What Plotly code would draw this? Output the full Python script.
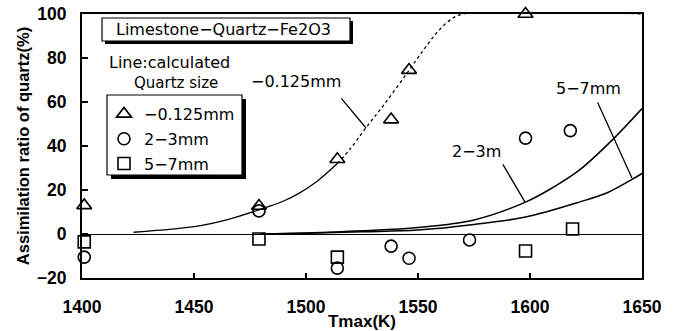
import plotly.graph_objects as go

# ---------------- data ----------------
tri_T = [1401, 1479, 1514, 1538, 1546, 1598]
tri_v = [13, 12.7, 34, 52, 74.5, 100]

cir_T = [1401, 1479, 1514, 1538, 1546, 1573, 1598, 1618]
cir_v = [-10.5, 10.5, -15.5, -5.5, -11, -2.7, 43.6, 47]

sq_T = [1401, 1479, 1514, 1598, 1619]
sq_v = [-3.6, -2.3, -10.5, -7.7, 2.3]

# calculated curves
calc_fine_T = [1423, 1440, 1453, 1465, 1479, 1490, 1497, 1505, 1514,
               1520, 1527, 1535, 1545, 1552, 1558, 1564, 1570, 1650]
calc_fine_v = [0.8, 2.2, 3.8, 6.5, 11, 15, 18.6, 24, 32,
               39, 48.6, 59, 73, 83, 91, 97, 100, 100]
fine_split = 8  # solid part up to index 8, dotted afterwards

calc_23_T = [1480, 1500, 1525, 1550, 1575, 1598, 1610, 1622, 1637, 1650]
calc_23_v = [0, 0.5, 1.5, 3, 6.4, 14.5, 21, 29, 43, 57]

calc_57_T = [1480, 1500, 1525, 1550, 1575, 1598, 1622, 1635, 1645, 1650]
calc_57_v = [0, 0.3, 1, 1.8, 4.3, 7.7, 14.5, 19, 24.5, 27.5]

x_ticks = [1400, 1450, 1500, 1550, 1600, 1650]
y_ticks = [-20, 0, 20, 40, 60, 80, 100]

# ---------------- figure ----------------
TXT = "DejaVu Sans"
AX = "Liberation Sans"
BLK = "black"

fig = go.Figure()

fig.add_trace(go.Scatter(x=calc_fine_T[:fine_split + 1], y=calc_fine_v[:fine_split + 1],
                         mode="lines", line=dict(color=BLK, width=1.3, shape="spline"),
                         showlegend=False, hoverinfo="skip"))
fig.add_trace(go.Scatter(x=calc_fine_T[fine_split:], y=calc_fine_v[fine_split:],
                         mode="lines", line=dict(color=BLK, width=1.3, dash="dot", shape="spline"),
                         showlegend=False, hoverinfo="skip"))
fig.add_trace(go.Scatter(x=calc_23_T, y=calc_23_v, mode="lines",
                         line=dict(color=BLK, width=1.5, shape="spline"),
                         showlegend=False, hoverinfo="skip"))
fig.add_trace(go.Scatter(x=calc_57_T, y=calc_57_v, mode="lines",
                         line=dict(color=BLK, width=1.5, shape="spline"),
                         showlegend=False, hoverinfo="skip"))

mk = dict(color=BLK, line=dict(color=BLK, width=1.6))
fig.add_trace(go.Scatter(x=tri_T, y=tri_v, mode="markers", name="\u22120.125mm",
                         legendgroup="a", cliponaxis=False,
                         marker=dict(symbol="triangle-up-open", size=13, **mk)))
fig.add_trace(go.Scatter(x=cir_T, y=cir_v, mode="markers", name="2\u22123mm",
                         legendgroup="b", cliponaxis=False,
                         marker=dict(symbol="circle-open", size=12, **mk)))
fig.add_trace(go.Scatter(x=sq_T, y=sq_v, mode="markers", name="5\u22127mm",
                         legendgroup="c", cliponaxis=False,
                         marker=dict(symbol="square-open", size=12, **mk)))

L, R, T, B = 82, 642, 14, 278
W, H = 680, 331


def px(xp):
    return (xp - L) / (R - L)


def py(yp):
    return (B - yp) / (B - T)


shapes = []
# title box with shadow
shapes.append(dict(type="rect", xref="paper", yref="paper", x0=px(105), x1=px(353),
                   y0=py(21), y1=py(44), fillcolor=BLK, line=dict(width=0), layer="above"))
shapes.append(dict(type="rect", xref="paper", yref="paper", x0=px(102), x1=px(350),
                   y0=py(18), y1=py(41), fillcolor="white", line=dict(color=BLK, width=1.2),
                   layer="above"))
# legend box with shadow
shapes.append(dict(type="rect", xref="paper", yref="paper", x0=px(111), x1=px(246),
                   y0=py(99), y1=py(179), fillcolor=BLK, line=dict(width=0), layer="above"))
shapes.append(dict(type="rect", xref="paper", yref="paper", x0=px(107), x1=px(242),
                   y0=py(95), y1=py(175), fillcolor="white", line=dict(color=BLK, width=1.2),
                   layer="above"))

C = dict(xanchor="center", yanchor="middle", showarrow=False)
annotations = [
    dict(xref="paper", yref="paper", x=px(223), y=py(30), text="Limestone\u2212Quartz\u2212Fe2O3",
         font=dict(family=TXT, size=16, color=BLK), **C),
    dict(xref="paper", yref="paper", x=px(169), y=py(63), text="Line:calculated",
         font=dict(family=TXT, size=16, color=BLK), **C),
    dict(xref="paper", yref="paper", x=px(176), y=py(83), text="Quartz size",
         font=dict(family=TXT, size=15, color=BLK), **C),
    # curve labels
    dict(x=1495.5, y=69.5, text="\u22120.125mm", font=dict(family=TXT, size=16, color=BLK), **C),
    dict(x=1576.3, y=37.7, text="2\u22123m", font=dict(family=TXT, size=16, color=BLK), **C),
    dict(x=1626.3, y=66.1, text="5\u22127mm", font=dict(family=TXT, size=16, color=BLK), **C),
    # pointer lines
    dict(x=1526.8, y=48.2, ax=1515.2, ay=62.3, axref="x", ayref="y", text="",
         showarrow=True, arrowhead=0, arrowwidth=1.3, arrowcolor=BLK, standoff=0),
    dict(x=1597.8, y=14.5, ax=1587.5, ay=32.3, axref="x", ayref="y", text="",
         showarrow=True, arrowhead=0, arrowwidth=1.3, arrowcolor=BLK, standoff=0),
    dict(x=1645.5, y=25.5, ax=1629.9, ay=60.5, axref="x", ayref="y", text="",
         showarrow=True, arrowhead=0, arrowwidth=1.3, arrowcolor=BLK, standoff=0),
]

fig.update_layout(
    width=W, height=H,
    margin=dict(l=L, r=W - R, t=T, b=H - B, pad=0, autoexpand=False),
    paper_bgcolor="white", plot_bgcolor="white",
    showlegend=True,
    legend=dict(x=px(104), y=py(97), xanchor="left", yanchor="top",
                bgcolor="rgba(0,0,0,0)", borderwidth=0,
                font=dict(family=TXT, size=16, color=BLK),
                tracegroupgap=1, itemwidth=30),
    shapes=shapes,
    annotations=annotations,
    xaxis=dict(range=[1400, 1650], tickvals=x_ticks, ticks="inside", ticklen=5,
               tickwidth=1.5, tickcolor=BLK, showline=True, linecolor=BLK, linewidth=2.2,
               mirror=True, showgrid=False, zeroline=False, ticklabelstandoff=12,
               tickfont=dict(family=AX, size=17.5, color=BLK, weight="bold"),
               title=dict(text="Tmax(K)", standoff=2,
                          font=dict(family=AX, size=17, color=BLK, weight="bold"))),
    yaxis=dict(range=[-20, 100], tickvals=y_ticks, ticks="inside", ticklen=6,
               tickwidth=1.5, tickcolor=BLK, showline=True, linecolor=BLK, linewidth=2.2,
               mirror=True, showgrid=False, zeroline=True, zerolinecolor=BLK,
               zerolinewidth=1.3, ticklabelstandoff=10,
               tickfont=dict(family=AX, size=17.5, color=BLK, weight="bold"),
               title=dict(text="Assimilation ratio of quartz(%)", standoff=3,
                          font=dict(family=AX, size=16.5, color=BLK, weight="bold"))),
)

fig.write_html("out.html", config={"displayModeBar": False},
               post_script="document.body.style.margin='0px';")
